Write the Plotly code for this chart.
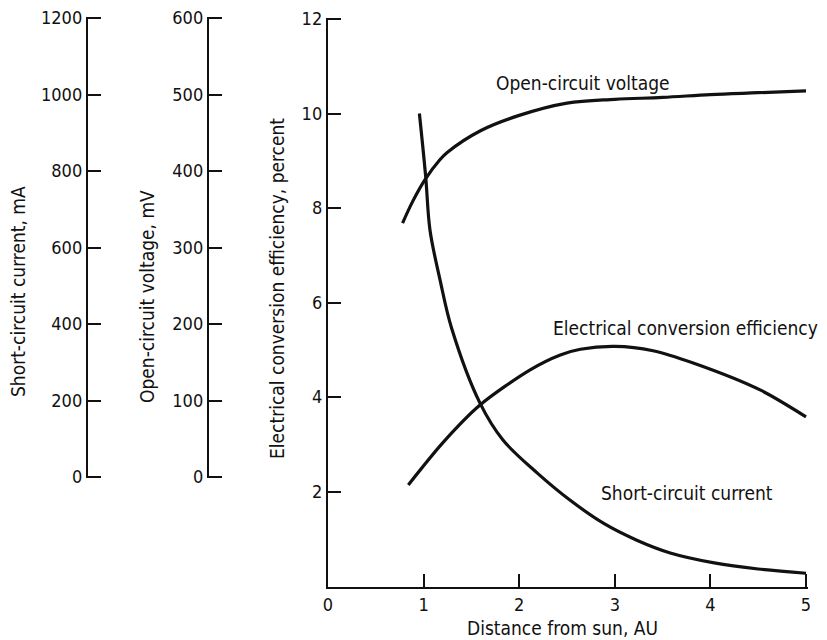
import plotly.graph_objects as go

# Data
voc_x = [0.78, 0.886, 1.015, 1.17, 1.25, 1.6, 2.0, 2.5, 3.0, 3.5, 4.0, 4.5, 5.0]
voc_mv = [384, 407, 430, 451, 459, 482, 498, 511, 515, 517, 520, 522, 524]

isc_x = [0.956, 1.022, 1.067, 1.172, 1.294, 1.59, 1.83, 2.19, 2.53, 2.88, 3.23, 3.58, 4.04, 4.5, 5.0]
isc_ma = [1000, 866, 753, 648, 545, 387, 309, 239, 182, 133, 97, 70, 49, 36, 27]

eff_x = [0.84, 1.2, 1.59, 2.11, 2.43, 2.64, 3.0, 3.4, 3.82, 4.52, 5.0]
eff_pct = [2.14, 3.03, 3.83, 4.57, 4.89, 5.01, 5.07, 4.98, 4.72, 4.15, 3.58]

x_ticks = [0, 1, 2, 3, 4, 5]
eff_ticks = [2, 4, 6, 8, 10, 12]
isc_ticks = [0, 200, 400, 600, 800, 1000, 1200]
voc_ticks = [0, 100, 200, 300, 400, 500, 600]

W, H = 827, 640
OFF = 8  # page offset of the figure inside the browser window
FONT = "DejaVu Sans Condensed, Liberation Sans Narrow, Arial Narrow, sans-serif"
INK = "#111111"
CLEAR = "rgba(0,0,0,0)"
FS_TICK = 18
FS_TEXT = 19

def px_x(p):
    return (p - OFF) / W

def px_y(p):
    return 1 - (p - OFF) / H

# small headroom (fraction of the axis span) so the end ticks are not dropped
PAD = 0.0025

# main efficiency axis: 0 at y=586 px, 12 at y=19 px
eff_lo, eff_hi = 0, 12
k_main = (586 - 19)
main_dom_y = [px_y(586 + PAD * k_main), px_y(19 - PAD * k_main)]
eff_range = [eff_lo - PAD * (eff_hi - eff_lo), eff_hi + PAD * (eff_hi - eff_lo)]
isc_overlay_range = [0 - PAD * 1200, 1200 + PAD * 1200]
voc_overlay_range = [0 - PAD * 600, 600 + PAD * 600]

# x axis: 0 at x=328 px, 5 at x=806 px
k_x = (806 - 328)
main_dom_x = [px_x(328), px_x(806 + 0.004 * k_x)]
x_range = [0, 5 * 1.004]

# stand-alone scales: 0 at y=477 px, top at y=18 px
k_side = (477 - 18)
side_dom_y = [px_y(477 + PAD * k_side), px_y(18 - PAD * k_side)]
isc_range = [0 - PAD * 1200, 1200 + PAD * 1200]
voc_range = [0 - PAD * 600, 600 + PAD * 600]

def curve(sm):
    return dict(color=INK, width=3.2, shape="spline", smoothing=sm)

fig = go.Figure()
fig.add_trace(go.Scatter(x=eff_x, y=eff_pct, mode="lines", line=curve(0.8),
                         xaxis="x", yaxis="y", name="Electrical conversion efficiency"))
fig.add_trace(go.Scatter(x=isc_x, y=isc_ma, mode="lines", line=curve(1.0),
                         xaxis="x", yaxis="y2", name="Short-circuit current"))
fig.add_trace(go.Scatter(x=voc_x, y=voc_mv, mode="lines", line=curve(1.0),
                         xaxis="x", yaxis="y3", name="Open-circuit voltage"))
# placeholders so the stand-alone scales are drawn
fig.add_trace(go.Scatter(x=[None], y=[None], xaxis="x", yaxis="y4", showlegend=False, hoverinfo="skip"))
fig.add_trace(go.Scatter(x=[None], y=[None], xaxis="x", yaxis="y5", showlegend=False, hoverinfo="skip"))

axis_common = dict(showgrid=False, zeroline=False, showline=True, linecolor=INK, linewidth=2.4,
                   ticks="inside", ticklen=13, tickwidth=2.2, tickcolor=INK, automargin=False,
                   ticklabeloverflow="allow",
                   tickfont=dict(family=FONT, size=FS_TICK, color=INK))

fig.update_layout(
    template="none",
    width=W, height=H,
    margin=dict(l=0, r=0, t=0, b=0, pad=0, autoexpand=False),
    paper_bgcolor="white", plot_bgcolor=CLEAR,
    showlegend=False,
    font=dict(family=FONT, size=FS_TEXT, color=INK),
    xaxis=dict(domain=main_dom_x, range=x_range, tickvals=x_ticks, anchor="y", **axis_common),
    yaxis=dict(domain=main_dom_y, range=eff_range, tickvals=eff_ticks, anchor="x", **axis_common),
    yaxis2=dict(overlaying="y", range=isc_overlay_range, visible=False, anchor="x", automargin=False),
    yaxis3=dict(overlaying="y", range=voc_overlay_range, visible=False, anchor="x", automargin=False),
    yaxis4=dict(domain=side_dom_y, range=isc_range, tickvals=isc_ticks, anchor="free",
                position=px_x(87), side="left", **axis_common),
    yaxis5=dict(domain=side_dom_y, range=voc_range, tickvals=voc_ticks, anchor="free",
                position=px_x(208), side="left", **axis_common),
)

ann = [
    dict(text="Short-circuit current, mA", x=px_x(18), y=px_y(292), textangle=-90),
    dict(text="Open-circuit voltage, mV", x=px_x(147), y=px_y(297), textangle=-90),
    dict(text="Electrical conversion efficiency, percent", x=px_x(277), y=px_y(289), textangle=-90),
    dict(text="Distance from sun, AU", x=px_x(562), y=px_y(628)),
    dict(text="Open-circuit voltage", x=px_x(583), y=px_y(83)),
    dict(text="Electrical conversion efficiency", x=px_x(685), y=px_y(328)),
    dict(text="Short-circuit current", x=px_x(687), y=px_y(493)),
]
for a in ann:
    fig.add_annotation(xref="paper", yref="paper", showarrow=False,
                       xanchor="center", yanchor="middle",
                       font=dict(family=FONT, size=FS_TEXT, color=INK), **a)

fig.write_html("out.html")
